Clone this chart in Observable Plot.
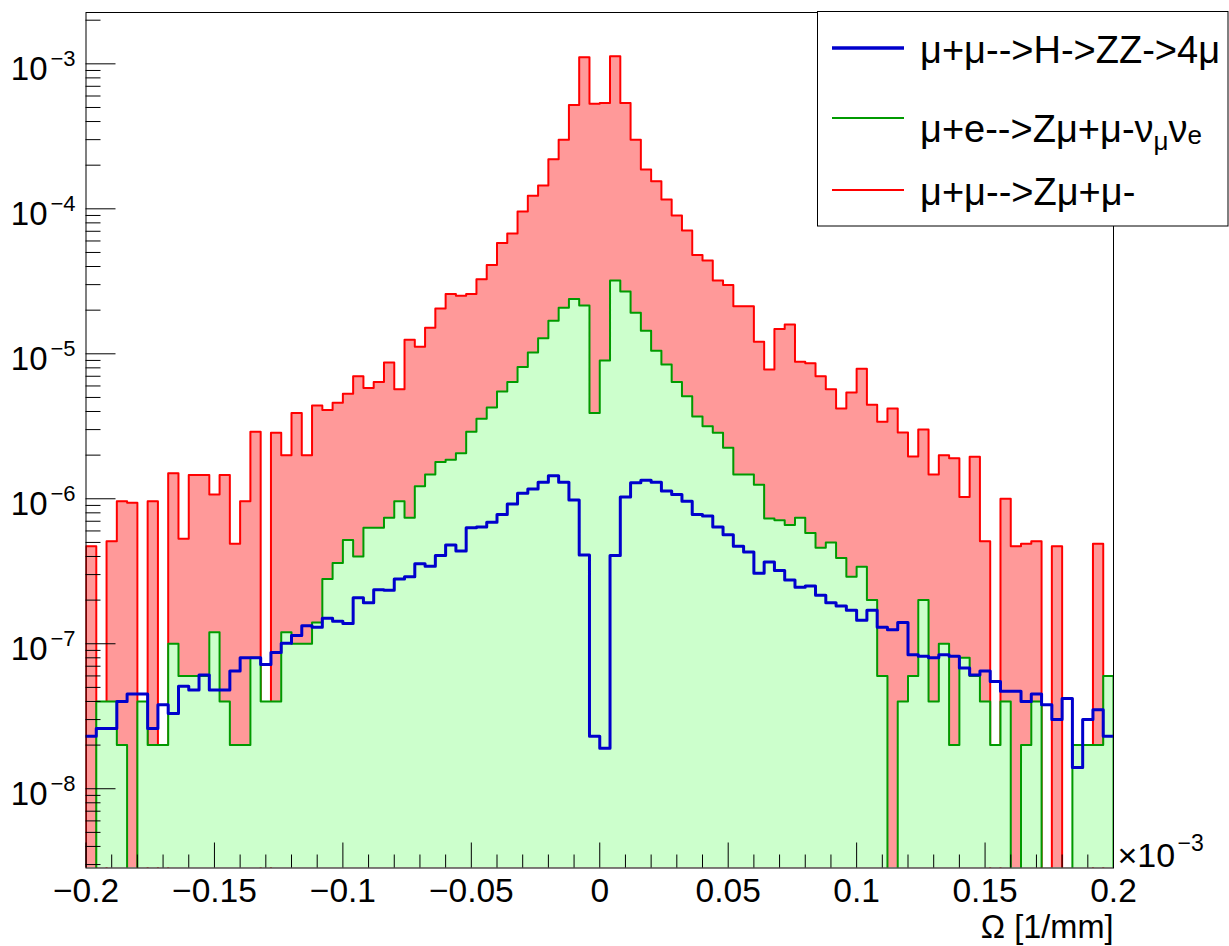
<!DOCTYPE html>
<html>
<head>
<meta charset="utf-8">
<script src="https://cdn.jsdelivr.net/npm/d3@7"></script>
<script src="https://cdn.jsdelivr.net/npm/@observablehq/plot@0.6"></script>
<style>
  html, body { margin: 0; padding: 0; background: #fff; }
  svg { display: block; }
</style>
</head>
<body>
<div id="chart"></div>
<script>
// ---- Data ----
const xMin = -0.2, xMax = 0.2, nBins = 100;

// mu+mu- --> Z mu+ mu-   (red, filled)
const redValues = [
  4.7e-7, 0, 5.1e-7, 9.6e-7, 9.4e-7, 0, 9.6e-7, 0, 1.5e-6, 5.3e-7,
  1.46e-6, 1.46e-6, 1.07e-6, 1.46e-6, 4.9e-7, 9.6e-7, 2.9e-6, 0, 2.85e-6, 2.0e-6,
  3.9e-6, 2.0e-6, 4.4e-6, 4.1e-6, 4.6e-6, 5.3e-6, 7.0e-6, 5.8e-6, 6.4e-6, 8.7e-6,
  5.7e-6, 1.25e-5, 1.12e-5, 1.51e-5, 2.05e-5, 2.58e-5, 2.51e-5, 2.58e-5, 3.27e-5, 4.1e-5,
  5.8e-5, 6.75e-5, 9.6e-5, 1.23e-4, 1.45e-4, 2.2e-4, 3.0e-4, 5.2e-4, 1.11e-3, 5.3e-4,
  5.36e-4, 1.13e-3, 5.36e-4, 3.0e-4, 1.87e-4, 1.55e-4, 1.16e-4, 9.0e-5, 7.1e-5, 4.8e-5,
  4.4e-5, 3.2e-5, 2.98e-5, 2.13e-5, 2.13e-5, 1.21e-5, 7.8e-6, 1.48e-5, 1.59e-5, 8.8e-6,
  8.6e-6, 7.0e-6, 5.7e-6, 4.2e-6, 5.4e-6, 7.9e-6, 4.45e-6, 3.4e-6, 4.2e-6, 2.86e-6,
  1.96e-6, 3.0e-6, 1.47e-6, 2.0e-6, 1.9e-6, 1.03e-6, 1.95e-6, 5.1e-7, 0, 1.0e-6,
  4.7e-7, 4.9e-7, 5.1e-7, 0, 4.7e-7, 0, 0, 0, 4.9e-7, 0
];

// mu+e --> Z mu+ mu- nu nu   (green, filled)
const greenValues = [
  0, 4e-8, 4e-8, 2e-8, 0, 4e-8, 2e-8, 2e-8, 1e-7, 6e-8,
  6e-8, 6e-8, 1.2e-7, 4e-8, 2e-8, 2e-8, 8e-8, 4e-8, 4e-8, 1.2e-7,
  1e-7, 1e-7, 1.4e-7, 2.8e-7, 3.6e-7, 5.2e-7, 4.0e-7, 6.3e-7, 6.3e-7, 7.4e-7,
  9.6e-7, 7.4e-7, 1.22e-6, 1.47e-6, 1.79e-6, 1.86e-6, 2.06e-6, 2.9e-6, 3.56e-6, 4.27e-6,
  5.5e-6, 6.4e-6, 8.1e-6, 1.02e-5, 1.28e-5, 1.69e-5, 2.08e-5, 2.39e-5, 2.15e-5, 3.9e-6,
  9.0e-6, 3.2e-5, 2.69e-5, 1.92e-5, 1.44e-5, 1.05e-5, 8.45e-6, 6.4e-6, 5.1e-6, 3.7e-6,
  3.16e-6, 2.85e-6, 2.25e-6, 1.47e-6, 1.47e-6, 1.25e-6, 7.3e-7, 7.1e-7, 6.6e-7, 7.4e-7,
  5.8e-7, 4.6e-7, 5.0e-7, 3.9e-7, 2.9e-7, 3.4e-7, 2.0e-7, 6e-8, 0, 4e-8,
  6e-8, 2e-7, 4e-8, 1e-7, 2e-8, 8e-8, 6e-8, 4e-8, 2e-8, 4e-8,
  0, 2e-8, 4e-8, 0, 0, 0, 2e-8, 2e-8, 2e-8, 6e-8
];

// mu+mu --> H --> ZZ --> 4mu   (blue, line)
const blueValues = [
  2.3e-8, 2.6e-8, 2.6e-8, 4.0e-8, 4.5e-8, 4.5e-8, 2.6e-8, 3.8e-8, 3.3e-8, 5.1e-8,
  4.8e-8, 6.1e-8, 4.8e-8, 4.8e-8, 6.5e-8, 8.0e-8, 8.0e-8, 7.2e-8, 8.7e-8, 1.01e-7,
  1.14e-7, 1.33e-7, 1.3e-7, 1.5e-7, 1.43e-7, 1.38e-7, 2.08e-7, 1.92e-7, 2.36e-7, 2.34e-7,
  2.8e-7, 2.9e-7, 3.57e-7, 3.43e-7, 4.07e-7, 4.8e-7, 4.36e-7, 6.3e-7, 6.4e-7, 6.9e-7,
  7.8e-7, 9.2e-7, 1.09e-6, 1.17e-6, 1.3e-6, 1.44e-6, 1.3e-6, 9.8e-7, 4.1e-7, 2.3e-8,
  1.9e-8, 4.07e-7, 1.03e-6, 1.29e-6, 1.34e-6, 1.3e-6, 1.13e-6, 1.07e-6, 9.6e-7, 7.8e-7,
  7.6e-7, 6.4e-7, 5.65e-7, 4.7e-7, 4.3e-7, 3.07e-7, 3.66e-7, 3.2e-7, 2.75e-7, 2.45e-7,
  2.5e-7, 2.16e-7, 1.92e-7, 1.82e-7, 1.7e-7, 1.45e-7, 1.7e-7, 1.3e-7, 1.25e-7, 1.4e-7,
  8.4e-8, 8.2e-8, 8.0e-8, 8.4e-8, 8.2e-8, 6.8e-8, 6.1e-8, 6.5e-8, 5.5e-8, 4.7e-8,
  4.7e-8, 4.0e-8, 4.5e-8, 3.8e-8, 3.0e-8, 4.2e-8, 1.4e-8, 3.0e-8, 3.5e-8, 2.3e-8
];

const xTickMajor = [-0.2, -0.15, -0.1, -0.05, 0, 0.05, 0.1, 0.15, 0.2];
const xTickLabels = ["\u22120.2", "\u22120.15", "\u22120.1", "\u22120.05", "0", "0.05", "0.1", "0.15", "0.2"];
const yDecades = [1e-3, 1e-4, 1e-5, 1e-6, 1e-7, 1e-8];
const yExponents = ["\u22123", "\u22124", "\u22125", "\u22126", "\u22127", "\u22128"];
const yDomain = [2.84e-9, 2.26e-3];
const xTitle = "\u03A9 [1/mm]";
const xScaleBase = "\u00D710";
const xScaleExp = "\u22123";
const legendNames = ["\u03BC+\u03BC-->H->ZZ->4\u03BC", "\u03BC+e-->Z\u03BC+\u03BC-\u03BD", "\u03BC+\u03BC-->Z\u03BC+\u03BC-"];

// ---- Styling ----
const W = 1229, H = 946;
const mL = 85.5, mR = 116, mT = 12, mB = 78.5;
const frameW = W - mL - mR, frameH = H - mT - mB;
const font = "'Liberation Sans', Arial, Helvetica, sans-serif";
const colors = {
  redLine: "#ff0000", redFill: "#ff9999",
  greenLine: "#009a00", greenFill: "#ccffcc",
  blueLine: "#0000cc"
};

// ---- Build step data ----
const binW = (xMax - xMin) / nBins;
const edge = i => xMin + i * binW;
const tiny = 1e-15;
function stepPoints(vals) {
  const pts = vals.map((v, i) => ({x: edge(i), v: v > 0 ? v : tiny}));
  pts.push({x: edge(nBins), v: vals[nBins - 1] > 0 ? vals[nBins - 1] : tiny});
  return pts;
}
function outlinePoints(vals) {
  const pts = stepPoints(vals);
  return [{x: edge(0), v: tiny}, ...pts, {x: edge(nBins), v: tiny}];
}
const redStep = stepPoints(redValues), greenStep = stepPoints(greenValues), blueStep = stepPoints(blueValues);
const redOutline = outlinePoints(redValues), greenOutline = outlinePoints(greenValues);

const xMinor = d3.range(41).map(i => +(xMin + i * 0.01).toFixed(3)).filter((d, i) => i % 5 !== 0);
const yMinor = [];
for (let e = -9; e <= -3; e++) for (let m = 2; m <= 9; m++) {
  const v = m * Math.pow(10, e);
  if (v > yDomain[0] && v < yDomain[1]) yMinor.push(v);
}

const svg = Plot.plot({
  width: W, height: H,
  marginLeft: mL, marginRight: mR, marginTop: mT, marginBottom: mB,
  style: {fontFamily: font, background: "#fff", color: "#000"},
  x: {domain: [xMin, xMax], axis: null},
  y: {type: "log", domain: yDomain, axis: null},
  marks: [
    Plot.areaY(redStep, {x: "x", y1: yDomain[0], y2: "v", curve: "step-after", fill: colors.redFill, clip: true}),
    Plot.line(redOutline, {x: "x", y: "v", curve: "step-after", stroke: colors.redLine, strokeWidth: 2, clip: true}),
    Plot.areaY(greenStep, {x: "x", y1: yDomain[0], y2: "v", curve: "step-after", fill: colors.greenFill, clip: true}),
    Plot.line(greenOutline, {x: "x", y: "v", curve: "step-after", stroke: colors.greenLine, strokeWidth: 2, clip: true}),
    Plot.line(blueStep, {x: "x", y: "v", curve: "step-after", stroke: colors.blueLine, strokeWidth: 3, clip: true}),
    // axes ticks
    Plot.tickY(yDecades, {y: d => d, stroke: "#000", strokeWidth: 1, insetRight: frameW - 30}),
    Plot.tickY(yMinor, {y: d => d, stroke: "#000", strokeWidth: 1, insetRight: frameW - 15}),
    Plot.tickX(xTickMajor, {x: d => d, stroke: "#000", strokeWidth: 1, insetTop: frameH - 25}),
    Plot.tickX(xMinor, {x: d => d, stroke: "#000", strokeWidth: 1, insetTop: frameH - 13}),
    Plot.frame({stroke: "#000", strokeWidth: 1}),
    // tick labels
    Plot.text(xTickMajor, {x: d => d, text: (d, i) => xTickLabels[i], frameAnchor: "bottom", lineAnchor: "bottom", dy: 34, fontSize: 33.5, fill: "#000"}),
    Plot.text(yDecades, {y: d => d, text: () => "10", frameAnchor: "left", textAnchor: "end", lineAnchor: "bottom", dx: -38.5, dy: 16.6, fontSize: 33, fill: "#000"}),
    Plot.text(yDecades, {y: d => d, text: (d, i) => yExponents[i], frameAnchor: "left", textAnchor: "start", lineAnchor: "bottom", dx: -35.5, dy: 2.3, fontSize: 22, fill: "#000"}),
    Plot.text([xTitle], {frameAnchor: "bottom-right", textAnchor: "end", lineAnchor: "bottom", dy: 70, fontSize: 32.5, fill: "#000"}),
    Plot.text([xScaleBase], {frameAnchor: "bottom-right", textAnchor: "start", lineAnchor: "bottom", dx: 4, dy: -1, fontSize: 34, fill: "#000"}),
    Plot.text([xScaleExp], {frameAnchor: "bottom-right", textAnchor: "start", lineAnchor: "bottom", dx: 64, dy: -17.5, fontSize: 23, fill: "#000"})
  ]
});

// ---- Legend ----
const g = d3.select(svg).append("g").attr("font-family", font).attr("text-anchor", "start");
g.append("rect").attr("x", 817.5).attr("y", 11.5).attr("width", 410.5).attr("height", 214.5)
  .attr("fill", "#fff").attr("stroke", "#000").attr("stroke-width", 1);
const legendRows = [
  {y: 48, color: colors.blueLine, w: 3.5, base: 63},
  {y: 118, color: colors.greenLine, w: 2, base: 141.5},
  {y: 190, color: colors.redLine, w: 2, base: 204.5}
];
legendRows.forEach((r, i) => {
  g.append("line").attr("x1", 832).attr("x2", 904).attr("y1", r.y).attr("y2", r.y)
    .attr("stroke", r.color).attr("stroke-width", r.w);
  const t = g.append("text").attr("x", 920).attr("y", r.base).attr("font-size", 38)
    .attr("fill", "#000").attr("text-anchor", "start");
  t.append("tspan").text(legendNames[i]);
  if (i === 1) {
    t.append("tspan").attr("font-size", 26).attr("dy", 8).text("\u03BC");
    t.append("tspan").attr("dy", -8).text("\u03BD");
    t.append("tspan").attr("font-size", 26).attr("dy", 2).text("e");
  }
});

document.getElementById("chart").appendChild(svg);
</script>
</body>
</html>
